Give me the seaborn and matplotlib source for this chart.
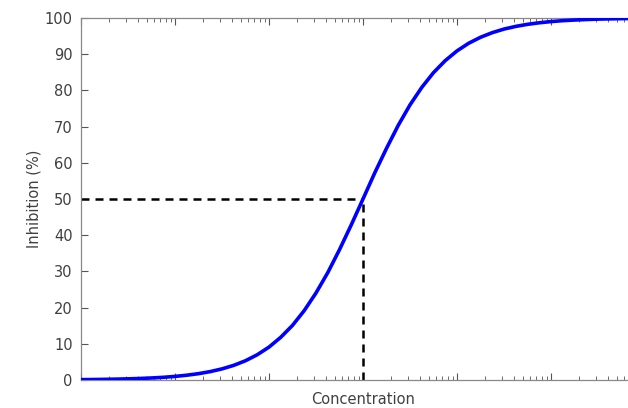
import numpy as np
import pandas as pd
import matplotlib
matplotlib.use("Agg")
import matplotlib.pyplot as plt
import seaborn as sns

# values
concentration = [0.001, 0.00133, 0.00178, 0.00237, 0.00316, 0.00422, 0.00562, 0.0075,
                 0.01, 0.0133, 0.0178, 0.0237, 0.0316, 0.0422, 0.0562, 0.075,
                 0.1, 0.133, 0.178, 0.237, 0.316, 0.422, 0.562, 0.75,
                 1.0, 1.33, 1.78, 2.37, 3.16, 4.22, 5.62, 7.5,
                 10.0, 13.3, 17.8, 23.7, 31.6, 42.2, 56.2, 75.0,
                 100.0, 133.0, 178.0, 237.0, 316.0, 422.0, 562.0, 750.0, 1000.0]
inhibition = [0.1, 0.13, 0.18, 0.24, 0.32, 0.42, 0.56, 0.74,
              0.99, 1.32, 1.75, 2.32, 3.07, 4.05, 5.32, 6.98,
              9.09, 11.77, 15.10, 19.17, 24.03, 29.66, 35.99, 42.85,
              50.0, 57.15, 64.01, 70.34, 75.98, 80.83, 84.90, 88.23,
              90.91, 93.02, 94.68, 95.95, 96.94, 97.68, 98.25, 98.68,
              99.01, 99.26, 99.44, 99.58, 99.69, 99.76, 99.82, 99.87, 99.9]
ic50 = 1.0
half = 50.0
y_ticks = [0, 10, 20, 30, 40, 50, 60, 70, 80, 90, 100]

df = pd.DataFrame({"Concentration": concentration, "Inhibition": inhibition})

sns.set_style("white")
plt.rcParams['font.family'] = ['DejaVu Sans']

fig = plt.figure(figsize=(6.28, 4.08), dpi=100)
ax = fig.add_axes([81/628, 1-380/408, 564/628, 362/408])

sns.lineplot(data=df, x="Concentration", y="Inhibition", ax=ax,
             color="#0000ff", linewidth=2.6, zorder=3)
ax.set_xscale("log")
ax.set_xlim(1e-3, 1e3)
ax.set_ylim(0, 100)

ax.plot([1e-3, ic50], [half, half], color="black", lw=1.8, ls=(0, (3.2, 2.4)), zorder=2)
ax.plot([ic50, ic50], [0, half], color="black", lw=1.8, ls=(0, (3.2, 2.4)), zorder=2)

ax.set_yticks(y_ticks)
ax.set_xticklabels([])
ax.xaxis.set_minor_formatter(matplotlib.ticker.NullFormatter())
ax.xaxis.set_major_locator(matplotlib.ticker.LogLocator(base=10, numticks=20))
ax.xaxis.set_minor_locator(matplotlib.ticker.LogLocator(base=10, subs=np.arange(2, 10), numticks=20))
ax.tick_params(axis="x", which="major", direction="in", length=5, width=0.8,
               top=True, bottom=True, colors="#555555")
ax.tick_params(axis="x", which="minor", direction="in", length=3, width=0.6,
               top=True, bottom=True, colors="#555555")
ax.tick_params(axis="y", which="major", direction="in", length=5, width=0.8,
               left=True, right=True, colors="#555555", labelcolor="#404040",
               labelsize=10.5, pad=6)

for s in ax.spines.values():
    s.set_color("#888888")
    s.set_linewidth(0.9)

ax.set_xlabel("Concentration", fontsize=10.5, color="#404040", labelpad=5)
ax.set_ylabel("Inhibition (%)", fontsize=10.5, color="#404040", labelpad=2)

fig.savefig("out.png", dpi=100)
